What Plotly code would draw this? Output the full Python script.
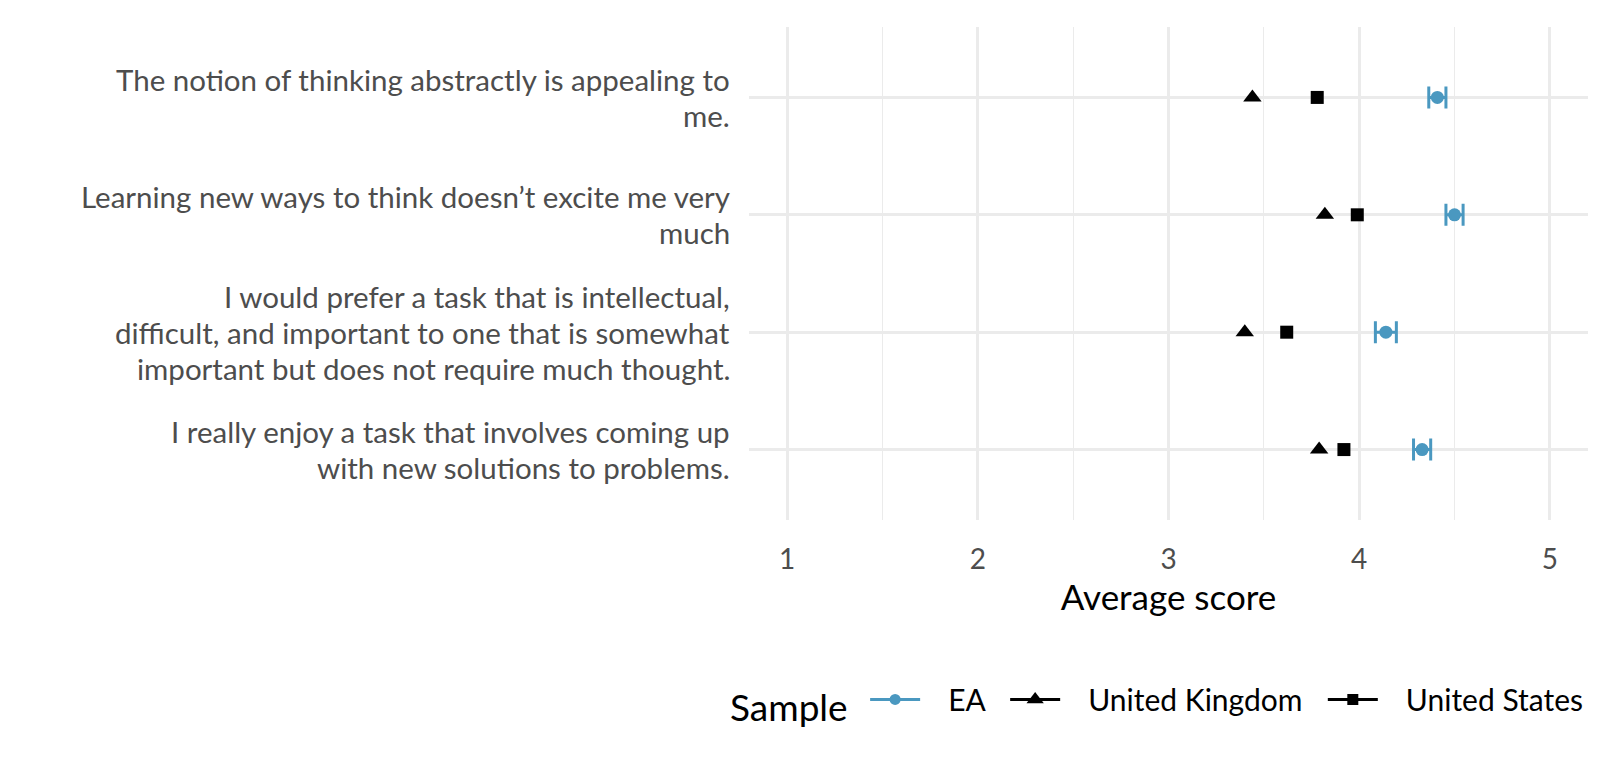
import plotly.graph_objects as go

# ---- data ----
items = [
    "The notion of thinking abstractly is appealing to\nme.",
    "Learning new ways to think doesn’t excite me very\nmuch",
    "I would prefer a task that is intellectual,\ndifficult, and important to one that is somewhat\nimportant but does not require much thought.",
    "I really enjoy a task that involves coming up\nwith new solutions to problems.",
]
ea_mean = [4.41, 4.50, 4.14, 4.33]
ea_err = [0.045, 0.045, 0.055, 0.045]
uk_mean = [3.44, 3.82, 3.40, 3.79]
us_mean = [3.78, 3.99, 3.62, 3.92]
x_ticks = [1, 2, 3, 4, 5]
series_names = ["EA", "United Kingdom", "United States"]

EA_COL = "#4A98C0"
FONT = "Lato"
LINE_SP = 36  # px between label lines
NB = "\u00a0"

fig = go.Figure()

fig.add_trace(go.Scatter(
    x=uk_mean, y=items, mode="markers", showlegend=False,
    marker=dict(symbol="triangle-up", size=16, color="black"),
))
fig.add_trace(go.Scatter(
    x=us_mean, y=items, mode="markers", showlegend=False,
    marker=dict(symbol="square", size=13, color="black"),
))
fig.add_trace(go.Scatter(
    x=ea_mean, y=items, mode="markers", showlegend=False,
    marker=dict(symbol="circle", size=13, color=EA_COL),
    error_x=dict(type="data", array=ea_err, color=EA_COL, thickness=3, width=11),
))

# legend proxies (line + marker glyphs)
legend_specs = [
    (series_names[0], "circle", EA_COL, 11, True),
    (series_names[1], "triangle-up", "black", 15, True),
    (series_names[2], "square", "black", 11, False),
]
for name, sym, col, sz, trail in legend_specs:
    fig.add_trace(go.Scatter(
        x=[None], y=[None], mode="lines+markers",
        name=NB * 3 + name + (NB * 2 if trail else ""),
        line=dict(color=col, width=3),
        marker=dict(symbol=sym, size=sz, color=col),
    ))

# y-axis labels as right-aligned text lines
annotations = []
for lab in items:
    lines = lab.split("\n")
    n = len(lines)
    for k, ln in enumerate(lines):
        annotations.append(dict(
            x=0, xref="paper", xanchor="right", xshift=-17,
            y=lab, yref="y", yanchor="middle",
            yshift=-(k - (n - 1) / 2) * LINE_SP,
            text=ln, showarrow=False, align="right",
            font=dict(size=29.5, color="#4D4D4D", family=FONT),
        ))

fig.update_layout(
    width=1600, height=766,
    paper_bgcolor="white", plot_bgcolor="white",
    margin=dict(l=741, r=20, t=19, b=254),
    font=dict(family=FONT, color="black"),
    annotations=annotations,
    xaxis=dict(
        range=[0.8, 5.2], tickvals=x_ticks, ticktext=[str(v) for v in x_ticks],
        showgrid=True, gridcolor="#EBEBEB", gridwidth=2.5,
        zeroline=False, showline=False,
        ticks="outside", ticklen=14, tickcolor="rgba(0,0,0,0)",
        tickfont=dict(size=28, color="#4D4D4D", family=FONT),
        minor=dict(dtick=0.5, tick0=0.5, showgrid=True, gridcolor="#EBEBEB", gridwidth=1.2),
        title=dict(text="Average score", font=dict(size=35, color="black", family=FONT), standoff=8),
        automargin=False,
    ),
    yaxis=dict(
        categoryorder="array", categoryarray=items[::-1],
        range=[-0.6, 3.6],
        showgrid=True, gridcolor="#EBEBEB", gridwidth=2.5,
        zeroline=False, showline=False, showticklabels=False,
        automargin=False,
    ),
    legend=dict(
        orientation="h", x=1.0, xanchor="right", y=-0.371, yanchor="middle",
        title=dict(text="Sample ", font=dict(size=37, color="black", family=FONT), side="left"),
        font=dict(size=30, color="black", family=FONT),
        itemwidth=50,
    ),
)

fig.write_html("out.html")
